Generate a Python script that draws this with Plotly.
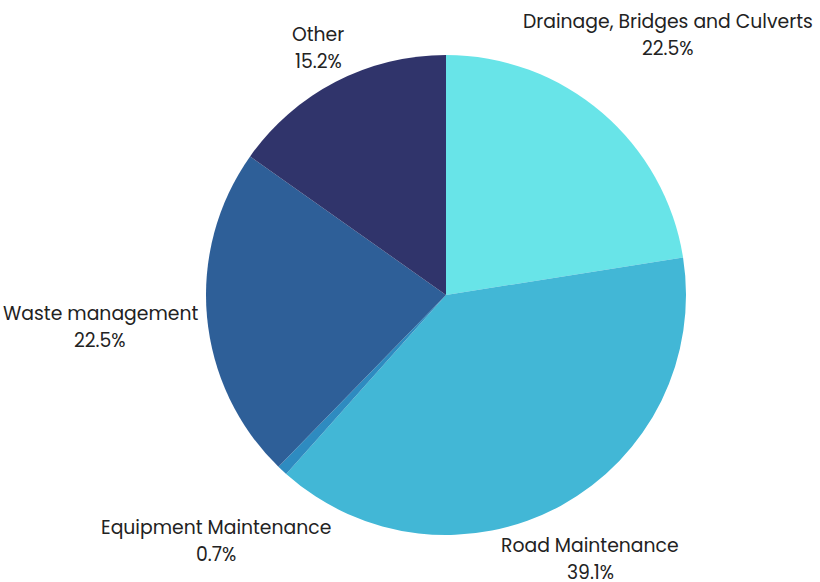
import math
import plotly.graph_objects as go

# Budget share by category (percent), clockwise from 12 o'clock
categories = ["Drainage, Bridges and Culverts", "Road Maintenance",
              "Equipment Maintenance", "Waste management", "Other"]
shares = [22.5, 39.1, 0.7, 22.5, 15.2]
colors = ["#68E4E8", "#42B7D6", "#2E8BC0", "#2E5F98", "#30346B"]

W, H = 820, 582
CX, CY, R = 446, 295, 240
# distance from pie centre to each label block centre
label_dist = [342, 301, 337, 347, 278]

fig = go.Figure(go.Pie(
    labels=categories,
    values=shares,
    sort=False,
    direction="clockwise",
    rotation=0,
    marker=dict(colors=colors, line=dict(width=0)),
    textinfo="none",
    hoverinfo="label+percent",
    showlegend=False,
    domain=dict(x=[(CX - R) / W, (CX + R) / W],
                y=[1 - (CY + R) / H, 1 - (CY - R) / H]),
))

total = sum(shares)
annotations = []
cum = 0.0
font = dict(family="Poppins, Inter, Open Sans, sans-serif", size=18.8, color="#222222")
for name, v, d in zip(categories, shares, label_dist):
    mid = (cum + v / 2) / total * 2 * math.pi
    cum += v
    px = CX + d * math.sin(mid)
    py = CY - d * math.cos(mid)
    for txt, off in ((name, -13.5), (f"{v / total * 100:.1f}%", 13.5)):
        annotations.append(dict(
            x=px / W, y=1 - (py + off) / H, xref="paper", yref="paper",
            text=txt, showarrow=False, font=font,
            xanchor="center", yanchor="middle",
        ))

fig.update_layout(
    width=W, height=H,
    margin=dict(l=0, r=0, t=0, b=0),
    paper_bgcolor="white",
    plot_bgcolor="white",
    annotations=annotations,
)

fig.write_html("out.html")
